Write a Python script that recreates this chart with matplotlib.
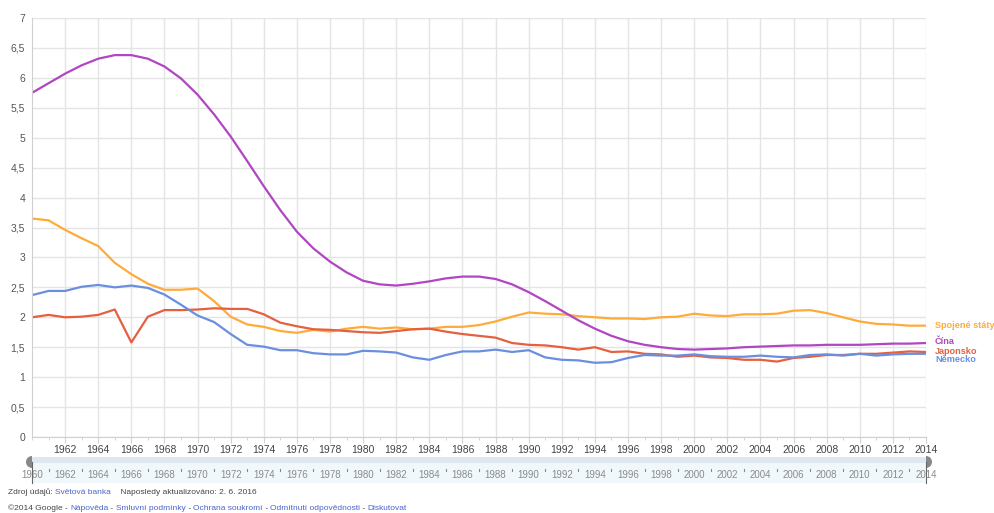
import matplotlib.pyplot as plt
from matplotlib.patches import Rectangle, Wedge
from matplotlib.ticker import FuncFormatter, MultipleLocator
import numpy as np

plt.rcParams["font.family"] = ["Liberation Sans", "DejaVu Sans"]

years = list(range(1960, 2015))

usa = [3.65, 3.62, 3.46, 3.32, 3.19, 2.91, 2.72, 2.56, 2.46, 2.46,
       2.48, 2.27, 2.01, 1.88, 1.84, 1.77, 1.74, 1.79, 1.76, 1.81,
       1.84, 1.81, 1.83, 1.80, 1.81, 1.84, 1.84, 1.87, 1.93, 2.01,
       2.08, 2.06, 2.05, 2.02, 2.00, 1.98, 1.98, 1.97, 2.00, 2.01,
       2.06, 2.03, 2.02, 2.05, 2.05, 2.06, 2.11, 2.12, 2.07, 2.00,
       1.93, 1.89, 1.88, 1.86, 1.86]
china = [5.75, 5.91, 6.07, 6.21, 6.32, 6.38, 6.38, 6.32, 6.19, 5.99,
         5.72, 5.39, 5.02, 4.61, 4.19, 3.79, 3.43, 3.15, 2.93, 2.75,
         2.61, 2.55, 2.53, 2.56, 2.60, 2.65, 2.68, 2.68, 2.64, 2.55,
         2.42, 2.27, 2.11, 1.95, 1.81, 1.69, 1.60, 1.54, 1.50, 1.47,
         1.46, 1.47, 1.48, 1.50, 1.51, 1.52, 1.53, 1.53, 1.54, 1.54,
         1.54, 1.55, 1.56, 1.56, 1.57]
japan = [2.00, 2.04, 2.00, 2.01, 2.04, 2.13, 1.58, 2.01, 2.12, 2.12,
         2.13, 2.15, 2.14, 2.14, 2.05, 1.91, 1.85, 1.80, 1.79, 1.77,
         1.75, 1.74, 1.77, 1.80, 1.81, 1.76, 1.72, 1.69, 1.66, 1.57,
         1.54, 1.53, 1.50, 1.46, 1.50, 1.42, 1.43, 1.39, 1.38, 1.34,
         1.36, 1.33, 1.32, 1.29, 1.29, 1.26, 1.32, 1.34, 1.37, 1.37,
         1.39, 1.39, 1.41, 1.43, 1.42]
germany = [2.37, 2.44, 2.44, 2.51, 2.54, 2.50, 2.53, 2.49, 2.38, 2.21,
           2.03, 1.92, 1.72, 1.54, 1.51, 1.45, 1.45, 1.40, 1.38, 1.38,
           1.44, 1.43, 1.41, 1.33, 1.29, 1.37, 1.43, 1.43, 1.46, 1.42,
           1.45, 1.33, 1.29, 1.28, 1.24, 1.25, 1.32, 1.37, 1.36, 1.36,
           1.38, 1.35, 1.34, 1.34, 1.36, 1.34, 1.33, 1.37, 1.38, 1.36,
           1.39, 1.36, 1.38, 1.39, 1.39]

series = [
    ("Spojené státy", usa, "#ffab3a", 326),
    ("Čína", china, "#b046c2", 342),
    ("Japonsko", japan, "#e5603f", 351),
    ("Německo", germany, "#6a8fe0", 360),
]

W, H = 994, 513
fig = plt.figure(figsize=(W / 100, H / 100), dpi=100)
x0, x1, ytop, ybot = 32, 926, 18, 437
ax = fig.add_axes([x0 / W, 1 - ybot / H, (x1 - x0) / W, (ybot - ytop) / H])

for name, vals, col, ly in series:
    ax.plot(years, vals, color=col, lw=1.6, solid_capstyle="round")
    fig.text(935 / W, 1 - ly / H, name, color=col, fontsize=6.6,
             fontweight="bold", va="center", ha="left")

ax.set_xlim(1960, 2014)
ax.set_ylim(0, 7)
ax.set_xticks(range(1962, 2015, 2))
ax.xaxis.set_minor_locator(MultipleLocator(1))
ax.yaxis.set_major_locator(MultipleLocator(0.5))
ax.yaxis.set_major_formatter(FuncFormatter(
    lambda v, p: ("%g" % v).replace(".", ",")))
ax.grid(True, color="#e4e4e4", lw=1)
ax.set_axisbelow(True)
for s in ["top", "right"]:
    ax.spines[s].set_visible(False)
for s in ["left", "bottom"]:
    ax.spines[s].set_color("#d0d0d0")
ax.tick_params(axis="x", which="major", length=4, color="#d0d0d0",
               labelsize=7.5, labelcolor="#444444", pad=2)
ax.tick_params(axis="x", which="minor", length=2, color="#d0d0d0")
ax.tick_params(axis="y", length=0, labelsize=7.5, labelcolor="#555555", pad=5)

# range slider below the chart
sl = fig.add_axes([x0 / W, 1 - 483 / H, (x1 - x0) / W, 26 / H])
sl.set_xlim(1960, 2014)
sl.set_ylim(0, 26)
sl.axis("off")
sl.add_patch(Rectangle((1960, 0), 54, 20, color="#f1f8fc", lw=0))
sl.add_patch(Rectangle((1960, 20), 54, 6, color="#dfe8ee", lw=0))
sl.plot([1960, 2014], [0, 0], color="#d6dde2", lw=0.8)
for yr in range(1960, 2015, 2):
    sl.text(yr, 8, str(yr), ha="center", va="center", fontsize=7,
            color="#8a8a8a")
for yr in range(1961, 2014, 2):
    sl.plot([yr, yr], [12, 14], color="#8a8a8a", lw=0.8)

hx = fig.add_axes([0, 0, 1, 1])
hx.set_xlim(0, W)
hx.set_ylim(H, 0)
hx.axis("off")
hx.add_patch(Wedge((32, 462), 6, 90, 270, color="#888888", lw=0))
hx.add_patch(Wedge((926, 462), 6, -90, 90, color="#888888", lw=0))
hx.plot([32, 32], [462, 483], color="#666666", lw=0.8)
hx.plot([926, 926], [462, 483], color="#666666", lw=0.8)

# footer
grey, blue = "#444444", "#4a63c8"
footer1 = [("Zdroj údajů: ", grey), ("Světová banka", blue),
           ("    Naposledy aktualizováno: 2. 6. 2016", grey)]
footer2 = [("©2014 Google - ", grey), ("Nápověda", blue), (" - ", grey),
           ("Smluvní podmínky", blue), (" - ", grey),
           ("Ochrana soukromí", blue), (" - ", grey),
           ("Odmítnutí odpovědnosti", blue), (" - ", grey),
           ("Diskutovat", blue)]
fig.canvas.draw()
r = fig.canvas.get_renderer()
for parts, ypix in [(footer1, 492), (footer2, 508)]:
    xp = 8
    for txt, col in parts:
        t = hx.text(xp, ypix, txt, color=col, fontsize=6.0, va="center",
                    ha="left")
        bb = t.get_window_extent(renderer=r)
        xp += bb.width

fig.savefig("out.png", dpi=100)
